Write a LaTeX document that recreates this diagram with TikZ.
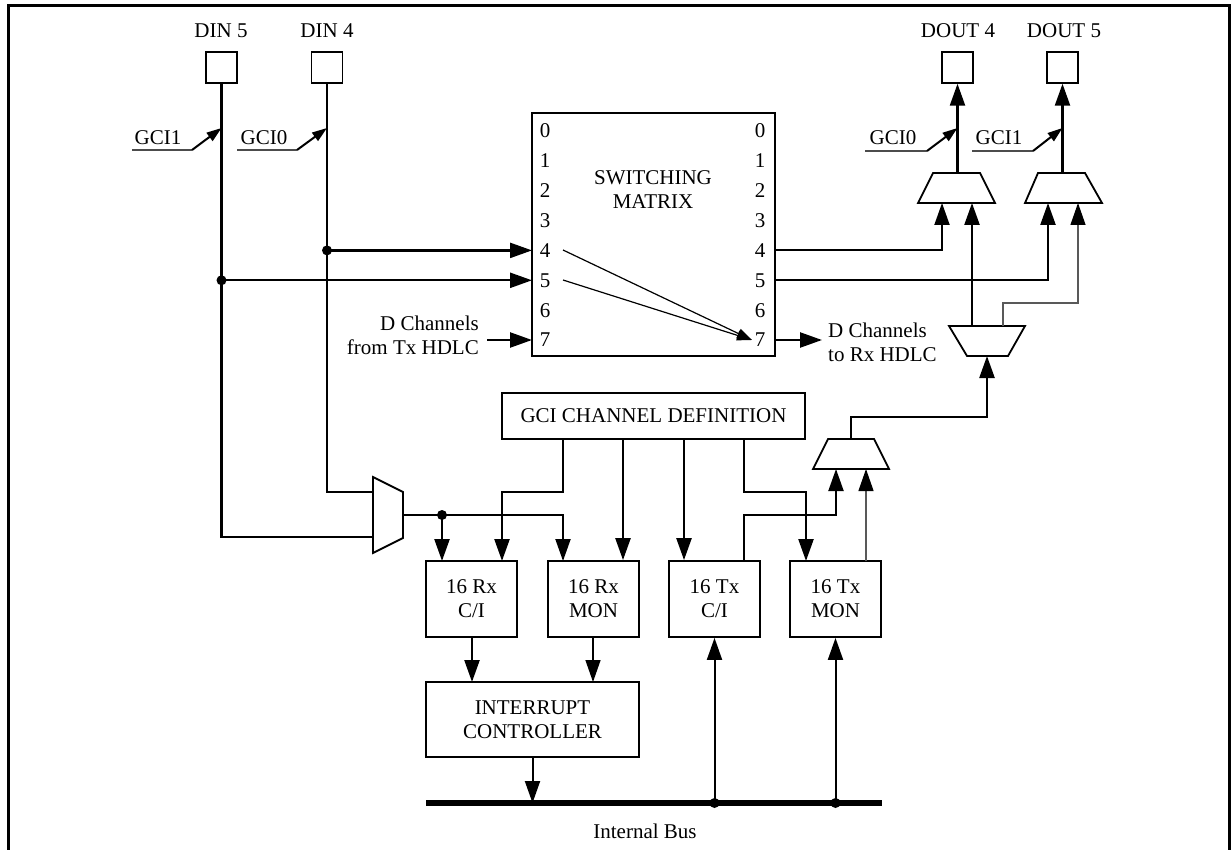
\documentclass[tikz,border=0pt]{standalone}
\usepackage{fontspec}
\setmainfont{Liberation Serif}
\usetikzlibrary{arrows.meta}
\begin{document}
\begin{tikzpicture}[x=1pt,y=-1pt,
  every node/.style={font=\fontsize{21}{24}\selectfont},
  box/.style={draw,line width=1.8pt,inner sep=0pt,align=center},
  pad/.style={draw,line width=1.5pt,minimum width=31pt,minimum height=31pt,inner sep=0pt},
  lab/.style={inner sep=0pt},
  wire/.style={line width=2.4pt},
  mwire/.style={line width=2pt},
  thinw/.style={line width=1.2pt,draw=black!65},
  arr/.style={-{Triangle[length=22pt,width=15pt,color=black]}},
  sarr/.style={-{Triangle[length=15pt,width=10pt,color=black]}},
  mux/.style={draw,line width=1.8pt,fill=white},
  jdot/.style={circle,fill=black,inner sep=0pt,minimum size=10pt}
]
\useasboundingbox (0,0) rectangle (1231,850);
% frame
\draw[line width=3pt] (8,850) -- (8,6) -- (1229,6) -- (1229,850);

% pads
\node[pad] (din5) at (221.5,67.5) {};
\node[pad] (din4) at (327,67.5) {};
\node[pad] (dout4) at (957.5,67.5) {};
\node[pad] (dout5) at (1062.5,67.5) {};
\node[lab] (ldin5) at (221,31) {DIN 5};
\node[lab] (ldin4) at (327,31) {DIN 4};
\node[lab] (ldout4) at (958,31) {DOUT 4};
\node[lab] (ldout5) at (1064,31) {DOUT 5};

% switching matrix
\node[box,minimum width=243pt,minimum height=243pt] (sm) at (653.5,234.5) {};
\node[lab,align=center] (smt) at (653,190) {SWITCHING\\MATRIX};
\foreach \i in {0,...,7}{
  \node[lab] (nl\i) at (545,131+\i*29.86) {\i};
  \node[lab] (nr\i) at (760,131+\i*29.86) {\i};
}
\coordinate (r4L) at (532,250.4);
\coordinate (r5L) at (532,280.3);
\coordinate (r7L) at (532,340);
\coordinate (r4R) at (775,250.4);
\coordinate (r5R) at (775,280.3);
\coordinate (r7R) at (775,340);

% GCI input arrows
\coordinate (g1a) at (132,150); \coordinate (g1b) at (192,150); \coordinate (g1c) at (221.5,128);
\coordinate (g0a) at (237,150); \coordinate (g0b) at (297,150); \coordinate (g0c) at (327,128);
\draw[line width=1.3pt,draw=black!70] (g1a) -- (g1b);
\draw[line width=2pt,sarr] (g1b) -- (g1c);
\draw[line width=1.3pt,draw=black!70] (g0a) -- (g0b);
\draw[line width=2pt,sarr] (g0b) -- (g0c);
\node[lab] (lg1) at (158,138) {GCI1};
\node[lab] (lg0) at (264,138) {GCI0};

% left mux
\draw[mux] (373,477) -- (403,492) -- (403,538) -- (373,553) -- cycle;
\coordinate (lmi1) at (373,492);
\coordinate (lmi2) at (373,537);
\coordinate (lmo) at (403,515);

\draw[wire] (din4.south) |- (lmi1);
\draw[wire] (din5.south) |- (lmi2);
\node[jdot] (j4) at (327,250.4) {};
\node[jdot] (j5) at (221.5,280.3) {};
\draw[wire,arr] (j4.center) -- (r4L);
\draw[wire,arr] (j5.center) -- (r5L);
\coordinate (txh) at (487,340);
\draw[wire,arr] (txh) -- (r7L);
\node[lab,anchor=east,align=right] (ltx) at (479,335) {D Channels\\from Tx HDLC};

% internal matrix arrows
\coordinate (m4) at (563,250); \coordinate (m5) at (563,280); \coordinate (m7) at (752,340);
\draw[line width=1.2pt,sarr] (m4) -- (m7);
\draw[line width=1.2pt,sarr] (m5) -- (m7);

% right side muxes
\draw[mux] (918,203) -- (995,203) -- (980,173) -- (933,173) -- cycle;
\draw[mux] (1025,203) -- (1102,203) -- (1085,173) -- (1038,173) -- cycle;
\coordinate (m1o) at (957.5,173); \coordinate (m2o) at (1062.5,173);
\coordinate (m1a) at (942,203); \coordinate (m1b) at (972,203);
\coordinate (m2a) at (1048,203); \coordinate (m2b) at (1078,203);
\draw[wire,arr] (m1o) -- (dout4.south);
\draw[wire,arr] (m2o) -- (dout5.south);
\coordinate (h0a) at (865,151); \coordinate (h0b) at (927,151); \coordinate (h0c) at (957.5,128);
\coordinate (h1a) at (972,151); \coordinate (h1b) at (1033,151); \coordinate (h1c) at (1062.5,128);
\draw[line width=1.3pt,draw=black!70] (h0a) -- (h0b);
\draw[line width=2pt,sarr] (h0b) -- (h0c);
\draw[line width=1.3pt,draw=black!70] (h1a) -- (h1b);
\draw[line width=2pt,sarr] (h1b) -- (h1c);
\node[lab] (lh0) at (893,138) {GCI0};
\node[lab] (lh1) at (999,138) {GCI1};

\draw[mwire,arr] (r4R) -| (m1a);
\draw[wire,arr] (r5R) -| (m2a);
\coordinate (rxh) at (822,340);
\draw[wire,arr] (r7R) -- (rxh);
\node[lab,anchor=west,align=left] (lrx) at (828,342) {D Channels\\to Rx HDLC};

% mux 3
\draw[mux] (949,326) -- (1025,326) -- (1008,356) -- (967,356) -- cycle;
\coordinate (m3a) at (972,326); \coordinate (m3b) at (1003,326); \coordinate (m3i) at (987,356);
\draw[wire,arr] (m3a) -- (m1b);
\draw[thinw,arr] (m3b) |- (1040,303) -| (m2b);

% mux 4
\draw[mux] (828,439) -- (874,439) -- (889,469) -- (813,469) -- cycle;
\coordinate (m4o) at (851,439); \coordinate (m4a) at (836,469); \coordinate (m4b) at (866,469);
\draw[wire,arr] (m4o) |- (930,417) -| (m3i);

% GCI channel definition
\node[box,minimum width=303pt,minimum height=46pt] (gci) at (653.5,416) {GCI CHANNEL DEFINITION};

% lower boxes
\node[box,minimum width=91pt,minimum height=76pt] (rxci) at (471.5,599) {16 Rx\\C/I};
\node[box,minimum width=91pt,minimum height=76pt] (rxmon) at (593.5,599) {16 Rx\\MON};
\node[box,minimum width=91pt,minimum height=76pt] (txci) at (714.5,599) {16 Tx\\C/I};
\node[box,minimum width=91pt,minimum height=76pt] (txmon) at (835.5,599) {16 Tx\\MON};
\node[box,minimum width=213pt,minimum height=75pt] (irq) at (532.5,719.5) {INTERRUPT\\CONTROLLER};

% GCI def outputs
\coordinate (ga) at (563,439); \coordinate (gb) at (623,439);
\coordinate (gc) at (684,439); \coordinate (gd) at (744,439);
\draw[wire,arr] (ga) |- (530,492) -| (502,561);
\draw[wire,arr] (gb) -- (gb |- rxmon.north);
\draw[wire,arr] (gc) -- (gc |- txci.north);
\draw[wire,arr] (gd) |- (780,492) -| (806,561);

% left mux output
\node[jdot] (j6) at (442,515) {};
\draw[mwire,arr] (lmo) -| (563,561);
\draw[wire,arr] (j6.center) -- (442,561);

% Tx to mux4
\draw[mwire,arr] (744,561) |- (800,515) -| (m4a);
\draw[thinw,arr] (866,561) -- (m4b);

% to interrupt controller
\draw[wire,arr] (472,637) -- (472,682);
\draw[line width=1.4pt,arr] (593,637) -- (593,682);

% bus
\coordinate (busL) at (426,803); \coordinate (busR) at (882,803);
\draw[line width=6pt] (busL) -- (busR);
\draw[mwire,arr] (irq.south) -- (irq.south |- busL);
\node[jdot] (b1) at (714.5,803) {};
\node[jdot] (b2) at (835.5,803) {};
\draw[mwire,arr] (b1.center) -- (txci.south);
\draw[mwire,arr] (b2.center) -- (txmon.south);
\node[lab] (lbus) at (645,831) {Internal Bus};
\end{tikzpicture}
\end{document}
